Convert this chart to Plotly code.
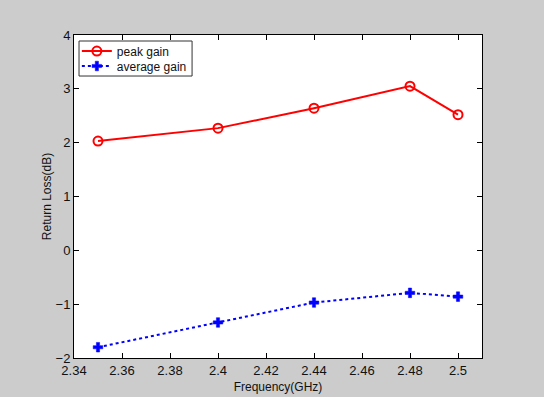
import plotly.graph_objects as go

freq = [2.35, 2.40, 2.44, 2.48, 2.50]
peak_gain = [2.03, 2.27, 2.64, 3.05, 2.52]
average_gain = [-1.80, -1.34, -0.97, -0.79, -0.86]

x_ticks = [2.34, 2.36, 2.38, 2.40, 2.42, 2.44, 2.46, 2.48, 2.50]
x_tick_labels = ["2.34", "2.36", "2.38", "2.4", "2.42", "2.44", "2.46", "2.48", "2.5"]
y_ticks = [-2, -1, 0, 1, 2, 3, 4]

font_family = "Liberation Sans, Arial, sans-serif"

fig = go.Figure()
fig.add_trace(go.Scatter(
    x=freq, y=peak_gain, name="peak gain", mode="lines+markers",
    line=dict(color="#ff0000", width=2),
    marker=dict(symbol="circle-open", size=9, color="#ff0000", line=dict(width=2, color="#ff0000")),
    legend="legend",
))
fig.add_trace(go.Scatter(
    x=freq, y=average_gain, name="average gain", mode="lines+markers",
    line=dict(color="#0000ff", width=2, dash="dot"),
    marker=dict(symbol="cross", size=8, color="#0000ff", line=dict(width=0.5, color="#0000ff")),
    legend="legend2",
))

axis_common = dict(
    showline=True, linecolor="black", linewidth=1, mirror="ticks",
    ticks="inside", ticklen=5, tickcolor="black", tickwidth=1,
    showgrid=False, zeroline=False, automargin=False,
    tickfont=dict(family=font_family, size=13, color="#111111"),
    title_font=dict(family=font_family, size=12, color="#111111"),
)

fig.update_xaxes(range=[2.34, 2.51], tickvals=x_ticks, ticktext=x_tick_labels,
                 title_text="Frequency(GHz)", title_standoff=6, **axis_common)
fig.update_yaxes(range=[-2, 4], tickvals=y_ticks,
                 title_text="Return Loss(dB)", title_standoff=1, **axis_common)

leg_common = dict(xanchor="left", yanchor="middle", bgcolor="rgba(0,0,0,0)",
                  borderwidth=0, itemwidth=30,
                  font=dict(family=font_family, size=12, color="#111111"))

fig.update_layout(
    width=544, height=397,
    margin=dict(l=74, r=62, t=35, b=39),
    paper_bgcolor="#cccccc", plot_bgcolor="white",
    showlegend=True,
    legend=dict(x=0.007, y=0.9504, **leg_common),
    legend2=dict(x=0.007, y=0.904, **leg_common),
    shapes=[dict(type="rect", xref="paper", yref="paper",
                 x0=0.0123, x1=0.2894, y0=0.873, y1=0.9814,
                 fillcolor="white", line=dict(width=1, color="#333333"), layer="below")],
)

fig.write_html("out.html")
